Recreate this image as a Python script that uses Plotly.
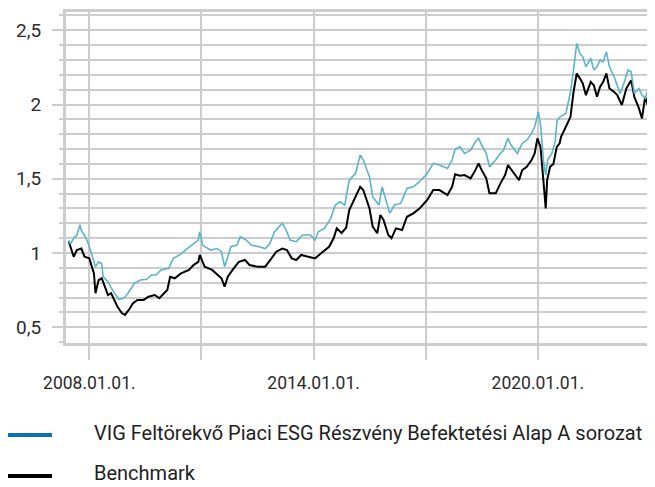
import plotly.graph_objects as go

fund_name = "VIG Feltörekvő Piaci ESG Részvény Befektetési Alap A sorozat"
bench_name = "Benchmark"

fund_dates = [
    "2007-06-15", "2007-07-01", "2007-08-01", "2007-09-01", "2007-10-01", "2007-10-15", "2007-11-15", "2007-12-15",
    "2008-02-01", "2008-03-01", "2008-04-01", "2008-05-01", "2008-05-15", "2008-07-01", "2008-08-15", "2008-10-15",
    "2008-12-01", "2009-01-01", "2009-02-15", "2009-03-15", "2009-05-15", "2009-07-15", "2009-09-01", "2009-10-15",
    "2009-12-01", "2010-02-15", "2010-04-01", "2010-06-01", "2010-08-15", "2010-10-15", "2010-12-01", "2010-12-15",
    "2011-01-15", "2011-04-01", "2011-06-01", "2011-07-15", "2011-08-15", "2011-09-15", "2011-10-15", "2011-12-15",
    "2012-01-15", "2012-03-15", "2012-05-01", "2012-07-15", "2012-09-15", "2012-11-01", "2012-12-15", "2013-03-01",
    "2013-04-15", "2013-05-15", "2013-07-15", "2013-09-15", "2013-12-01", "2014-01-15", "2014-02-15", "2014-04-15",
    "2014-06-15", "2014-08-01", "2014-09-15", "2014-11-01", "2014-12-15", "2015-02-15", "2015-04-01", "2015-05-01",
    "2015-06-01", "2015-07-01", "2015-08-01", "2015-10-01", "2015-11-01", "2015-12-01", "2016-01-15", "2016-03-01",
    "2016-05-01", "2016-07-01", "2016-09-01", "2016-11-01", "2017-01-15", "2017-03-15", "2017-05-15", "2017-08-01",
    "2017-09-15", "2017-10-15", "2017-12-01", "2018-01-15", "2018-03-15", "2018-05-01", "2018-06-01", "2018-07-01",
    "2018-08-15", "2018-09-15", "2018-11-15", "2019-01-01", "2019-02-01", "2019-03-15", "2019-04-15", "2019-06-15",
    "2019-08-01", "2019-09-15", "2019-11-01", "2019-12-01", "2020-01-07", "2020-01-30", "2020-02-24", "2020-03-18",
    "2020-04-05", "2020-05-16", "2020-06-18", "2020-07-07", "2020-08-06", "2020-10-01", "2020-11-15", "2020-12-15",
    "2021-01-15", "2021-02-15", "2021-03-15", "2021-04-15", "2021-06-01", "2021-07-01", "2021-08-01", "2021-09-01",
    "2021-10-01", "2021-11-01", "2021-12-01", "2022-01-15", "2022-02-15", "2022-03-15", "2022-04-15", "2022-06-01",
    "2022-07-01", "2022-08-01", "2022-09-15", "2022-10-15", "2022-11-15", "2022-12-15", "2023-01-15", "2023-02-01",
]
fund_values = [
    1.087, 1.06, 1.10, 1.12, 1.19, 1.15, 1.12, 1.076,
    0.975, 0.908, 0.94, 0.93, 0.84, 0.807, 0.75, 0.688,
    0.695, 0.717, 0.764, 0.796, 0.818, 0.823, 0.852, 0.852,
    0.886, 0.897, 0.964, 0.987, 1.03, 1.065, 1.087, 1.143,
    1.05, 1.02, 1.03, 1.009, 0.908, 0.975, 1.042, 1.054,
    1.11, 1.087, 1.054, 1.042, 1.03, 1.065, 1.143, 1.2,
    1.143, 1.087, 1.076, 1.121, 1.121, 1.087, 1.143, 1.166,
    1.23, 1.323, 1.345, 1.323, 1.491, 1.536, 1.66, 1.626,
    1.57, 1.513, 1.379, 1.323, 1.446, 1.379, 1.267, 1.323,
    1.334, 1.435, 1.446, 1.48, 1.536, 1.604, 1.592, 1.57,
    1.626, 1.70, 1.715, 1.671, 1.693, 1.749, 1.772, 1.727,
    1.671, 1.58, 1.626, 1.671, 1.693, 1.772, 1.727, 1.671,
    1.738, 1.76, 1.805, 1.85, 1.95, 1.85, 1.626, 1.525,
    1.626, 1.671, 1.75, 1.89, 1.917, 1.94, 2.085, 2.232,
    2.411, 2.344, 2.321, 2.254, 2.31, 2.232, 2.254, 2.299,
    2.287, 2.355, 2.254, 2.187, 2.13, 2.075, 2.13, 2.232,
    2.22, 2.075, 2.108, 2.063, 2.041, 2.108, 2.052, 1.95,
]

bench_dates = [
    "2007-06-15", "2007-08-01", "2007-09-01", "2007-10-15", "2007-11-15", "2008-01-01", "2008-02-15", "2008-03-01",
    "2008-04-01", "2008-05-01", "2008-06-01", "2008-07-01", "2008-08-01", "2008-10-01", "2008-11-15", "2008-12-15",
    "2009-02-01", "2009-03-01", "2009-04-15", "2009-06-15", "2009-08-01", "2009-10-01", "2009-11-15", "2010-02-01",
    "2010-03-01", "2010-04-15", "2010-06-15", "2010-09-01", "2010-10-15", "2010-12-01", "2010-12-15", "2011-02-01",
    "2011-04-15", "2011-06-15", "2011-07-15", "2011-08-15", "2011-09-15", "2011-11-01", "2012-01-01", "2012-03-01",
    "2012-04-15", "2012-07-01", "2012-09-15", "2012-11-15", "2013-01-01", "2013-03-01", "2013-04-15", "2013-06-01",
    "2013-07-15", "2013-09-01", "2013-11-15", "2014-01-15", "2014-03-15", "2014-06-01", "2014-07-15", "2014-08-15",
    "2014-10-01", "2014-11-15", "2014-12-15", "2015-02-15", "2015-04-01", "2015-05-01", "2015-06-01", "2015-07-01",
    "2015-08-01", "2015-09-15", "2015-10-15", "2015-11-15", "2016-01-01", "2016-02-01", "2016-03-15", "2016-05-15",
    "2016-07-01", "2016-09-01", "2016-11-01", "2017-01-15", "2017-03-15", "2017-05-15", "2017-08-01", "2017-09-15",
    "2017-10-15", "2017-12-01", "2018-01-15", "2018-03-15", "2018-05-01", "2018-06-01", "2018-07-01", "2018-08-15",
    "2018-09-15", "2018-11-15", "2019-01-01", "2019-02-15", "2019-03-15", "2019-05-01", "2019-07-01", "2019-08-01",
    "2019-09-15", "2019-11-01", "2019-12-01", "2019-12-28", "2020-01-27", "2020-02-24", "2020-03-18", "2020-04-01",
    "2020-04-30", "2020-06-01", "2020-07-04", "2020-08-01", "2020-08-15", "2020-10-01", "2020-11-15", "2020-12-15",
    "2021-01-15", "2021-02-15", "2021-03-15", "2021-04-15", "2021-06-01", "2021-07-01", "2021-08-01", "2021-09-01",
    "2021-10-01", "2021-11-01", "2021-12-01", "2022-01-15", "2022-02-15", "2022-04-01", "2022-05-15", "2022-07-01",
    "2022-08-01", "2022-09-15", "2022-10-15", "2022-11-15", "2022-12-15", "2023-01-15", "2023-02-01",
]
bench_values = [
    1.076, 0.975, 1.02, 1.03, 0.975, 0.964, 0.863, 0.729,
    0.818, 0.83, 0.773, 0.717, 0.729, 0.639, 0.594, 0.583,
    0.628, 0.661, 0.684, 0.684, 0.706, 0.717, 0.695, 0.751,
    0.84, 0.83, 0.863, 0.886, 0.919, 0.94, 0.987, 0.908,
    0.886, 0.852, 0.83, 0.773, 0.84, 0.886, 0.94, 0.953,
    0.919, 0.908, 0.908, 0.964, 1.009, 1.03, 1.02, 0.964,
    0.953, 0.987, 0.975, 0.964, 0.998, 1.042, 1.099, 1.166,
    1.135, 1.17, 1.289, 1.379, 1.446, 1.424, 1.357, 1.3,
    1.177, 1.133, 1.256, 1.222, 1.121, 1.099, 1.166, 1.155,
    1.244, 1.267, 1.3, 1.357, 1.424, 1.424, 1.39, 1.446,
    1.53, 1.52, 1.525, 1.503, 1.558, 1.604, 1.558, 1.503,
    1.402, 1.402, 1.469, 1.525, 1.592, 1.547, 1.491, 1.558,
    1.58, 1.626, 1.671, 1.772, 1.715, 1.491, 1.3, 1.491,
    1.58, 1.6, 1.715, 1.738, 1.783, 1.85, 1.917, 2.085,
    2.209, 2.176, 2.142, 2.063, 2.153, 2.13, 2.052, 2.12,
    2.153, 2.209, 2.108, 2.085, 2.063, 1.996, 2.108, 2.164,
    2.052, 1.974, 1.906, 2.052, 1.985, 1.94, 1.884,
]

x_range = ["2007-05-18", "2023-02-19"]
y_range = [0.394, 2.623]

fund_line_color = "#5cb3cc"
fund_legend_color = "#0a70b4"
bench_color = "#000000"
grid_color = "#cccccc"
text_color = "#2b2b2b"
legend_text_color = "#1e1e1e"

fig = go.Figure()
fig.add_trace(go.Scatter(
    x=bench_dates, y=bench_values, mode="lines", name=bench_name,
    line=dict(color=bench_color, width=2), showlegend=False,
))
fig.add_trace(go.Scatter(
    x=fund_dates, y=fund_values, mode="lines", name=fund_name,
    line=dict(color=fund_line_color, width=1.6), showlegend=False,
))

# Legend drawn below the plot (key line + label), as in the original layout
legend_items = [
    (fund_name, fund_legend_color, -0.278, dict(y=-0.272, yanchor="middle")),
    (bench_name, bench_color, -0.402, dict(y=-0.435, yanchor="bottom")),
]
for name, color, key_y, text_pos in legend_items:
    fig.add_shape(type="line", xref="paper", yref="paper",
                  x0=-0.0985, x1=-0.0238, y0=key_y, y1=key_y,
                  line=dict(color=color, width=4))
    fig.add_annotation(xref="paper", yref="paper", x=0.0441, xanchor="left",
                       text=name, showarrow=False,
                       font=dict(family="Roboto", size=20, color=legend_text_color),
                       **text_pos)

fig.update_layout(
    width=647, height=479,
    margin=dict(l=58, r=0, t=4, b=144, pad=0, autoexpand=False),
    paper_bgcolor="white", plot_bgcolor="white",
    separators=", ",
    showlegend=False,
    font=dict(family="Roboto", size=18, color=text_color),
    xaxis=dict(
        type="date", range=x_range,
        tick0="2008-01-01", dtick="M72", tickformat="%Y.%m.%d.",
        ticks="outside", ticklen=14, tickwidth=2, tickcolor=grid_color,
        ticklabelstandoff=8,
        showgrid=True, gridcolor=grid_color, gridwidth=2,
        minor=dict(tick0="2008-01-01", dtick="M36", showgrid=True, gridcolor=grid_color,
                   gridwidth=2, ticks="outside", ticklen=14, tickcolor=grid_color, tickwidth=2),
        showline=True, linecolor=grid_color, linewidth=3, mirror=True,
        zeroline=False, tickfont=dict(family="Roboto", size=17.5, color=text_color),
    ),
    yaxis=dict(
        range=y_range, tick0=0, dtick=0.5,
        ticks="outside", ticklen=11, tickwidth=2, tickcolor=grid_color,
        ticklabelstandoff=7,
        showgrid=True, gridcolor=grid_color, gridwidth=2,
        minor=dict(dtick=0.1, showgrid=True, gridcolor=grid_color, gridwidth=2,
                   ticks="outside", ticklen=4, tickcolor=grid_color, tickwidth=2),
        showline=True, linecolor=grid_color, linewidth=3,
        zeroline=False, tickfont=dict(family="Roboto", size=19, color=text_color),
    ),
)

fig.write_html("out.html")
